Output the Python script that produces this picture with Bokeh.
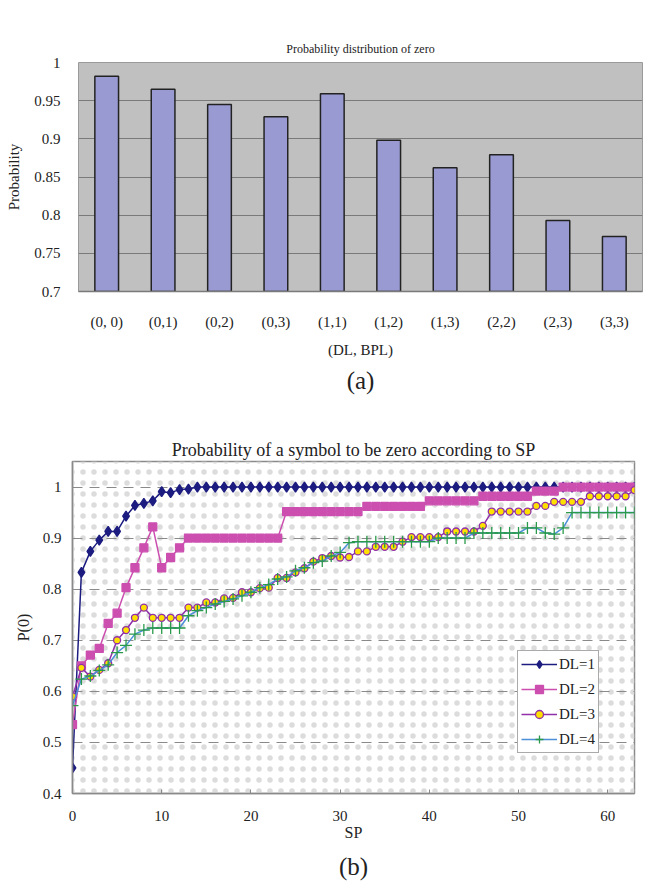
from bokeh.plotting import figure
from bokeh.models import FactorRange, Range1d, FixedTicker, Title, BoxAnnotation
from bokeh.embed import file_html
from bokeh.resources import INLINE

FONT = "Liberation Serif"

# ---------------- data: chart (a) ----------------
pairs = ["(0, 0)", "(0,1)", "(0,2)", "(0,3)", "(1,1)", "(1,2)", "(1,3)", "(2,2)", "(2,3)", "(3,3)"]
prob_zero = [0.982, 0.965, 0.945, 0.929, 0.959, 0.898, 0.862, 0.879, 0.793, 0.772]
bar_ticks = [0.7, 0.75, 0.8, 0.85, 0.9, 0.95, 1.0]
bar_tick_labels = ["0.7", "0.75", "0.8", "0.85", "0.9", "0.95", "1"]

# ---------------- data: chart (b) ----------------
sp = [0, 1, 2, 3, 4, 5, 6, 7, 8, 9, 10, 11, 12, 13, 14, 15, 16, 17, 18, 19,
      20, 21, 22, 23, 24, 25, 26, 27, 28, 29, 30, 31, 32, 33, 34, 35, 36, 37, 38, 39,
      40, 41, 42, 43, 44, 45, 46, 47, 48, 49, 50, 51, 52, 53, 54, 55, 56, 57, 58, 59,
      60, 61, 62, 63]
dl1 = [0.45, 0.833, 0.874, 0.896, 0.913, 0.913, 0.943, 0.964, 0.968, 0.973,
       0.991, 0.989, 0.995, 0.996, 1.0, 1.0, 1.0, 1.0, 1.0, 1.0,
       1.0, 1.0, 1.0, 1.0, 1.0, 1.0, 1.0, 1.0, 1.0, 1.0,
       1.0, 1.0, 1.0, 1.0, 1.0, 1.0, 1.0, 1.0, 1.0, 1.0,
       1.0, 1.0, 1.0, 1.0, 1.0, 1.0, 1.0, 1.0, 1.0, 1.0,
       1.0, 1.0, 1.0, 1.0, 1.0, 1.0, 1.0, 1.0, 1.0, 1.0,
       1.0, 1.0, 1.0, 1.0]
dl2 = [0.535, 0.65, 0.671, 0.684, 0.733, 0.753, 0.803, 0.842, 0.881, 0.922,
       0.842, 0.862, 0.881, 0.90, 0.90, 0.90, 0.90, 0.90, 0.90, 0.90,
       0.90, 0.90, 0.90, 0.90, 0.952, 0.952, 0.952, 0.952, 0.952, 0.952,
       0.952, 0.952, 0.952, 0.962, 0.962, 0.962, 0.962, 0.962, 0.962, 0.962,
       0.973, 0.973, 0.973, 0.973, 0.973, 0.973, 0.982, 0.982, 0.982, 0.982,
       0.982, 0.982, 0.992, 0.992, 0.992, 1.0, 1.0, 1.0, 1.0, 1.0,
       1.0, 1.0, 1.0, 1.0]
dl3 = [0.59, 0.646, 0.629, 0.642, 0.655, 0.70, 0.72, 0.744, 0.764, 0.744,
       0.744, 0.744, 0.744, 0.764, 0.764, 0.774, 0.774, 0.782, 0.783, 0.794,
       0.794, 0.802, 0.803, 0.822, 0.822, 0.833, 0.841, 0.854, 0.861, 0.865,
       0.862, 0.863, 0.874, 0.874, 0.883, 0.883, 0.883, 0.893, 0.902, 0.902,
       0.902, 0.902, 0.913, 0.913, 0.913, 0.913, 0.924, 0.952, 0.952, 0.952,
       0.952, 0.952, 0.963, 0.963, 0.971, 0.971, 0.971, 0.971, 0.982, 0.982,
       0.982, 0.982, 0.982, 0.994]
dl4 = [0.572, 0.624, 0.63, 0.641, 0.652, 0.676, 0.69, 0.712, 0.72, 0.724,
       0.724, 0.724, 0.724, 0.748, 0.758, 0.764, 0.771, 0.776, 0.781, 0.787,
       0.794, 0.803, 0.809, 0.82, 0.824, 0.836, 0.842, 0.852, 0.855, 0.865,
       0.872, 0.891, 0.893, 0.893, 0.893, 0.893, 0.893, 0.893, 0.893, 0.893,
       0.893, 0.90, 0.90, 0.90, 0.90, 0.91, 0.91, 0.91, 0.91, 0.91,
       0.91, 0.92, 0.92, 0.91, 0.908, 0.92, 0.95, 0.95, 0.95, 0.95,
       0.95, 0.95, 0.95, 0.95]
line_ticks_y = [0.4, 0.5, 0.6, 0.7, 0.8, 0.9, 1.0]
line_tick_labels_y = ["0.4", "0.5", "0.6", "0.7", "0.8", "0.9", "1"]
line_ticks_x = [0, 10, 20, 30, 40, 50, 60]

# ---------------- chart (a) ----------------
p1 = figure(x_range=FactorRange(*pairs), y_range=Range1d(0.7, 1.0),
            frame_width=564, frame_height=229, output_backend="svg", toolbar_location=None,
            min_border_left=78, min_border_right=3, min_border_top=62, min_border_bottom=120)
p1.vbar(x=pairs, top=prob_zero, bottom=0.7, width=0.42,
        fill_color="#9a9ad2", line_color="#222222", line_width=1.5)
p1.title.text = "Probability distribution of zero"
p1.title.align = "center"
p1.title.text_font = FONT
p1.title.text_font_size = "12px"
p1.title.text_font_style = "normal"
p1.title.text_color = "#222222"
p1.title.standoff = 13
p1.background_fill_color = "#c0c0c0"
p1.outline_line_color = "#9a9a9a"
p1.xgrid.grid_line_color = None
p1.ygrid.grid_line_color = "#7a7a7a"
p1.ygrid.grid_line_width = 1
p1.yaxis.ticker = FixedTicker(ticks=bar_ticks)
p1.yaxis.major_label_overrides = dict(zip(bar_ticks, bar_tick_labels))
p1.yaxis.axis_line_color = None
p1.yaxis.major_tick_line_color = None
p1.yaxis.minor_tick_line_color = None
p1.yaxis.major_label_standoff = 12
p1.yaxis.axis_label = "Probability"
p1.yaxis.axis_label_standoff = 9
p1.xaxis.axis_label = "(DL, BPL)"
p1.xaxis.axis_line_color = "#7a7a7a"
p1.xaxis.axis_line_width = 1.5
p1.xaxis.major_tick_line_color = None
p1.xaxis.major_label_standoff = 16
p1.xaxis.axis_label_standoff = 9
for ax in (p1.xaxis, p1.yaxis):
    ax.major_label_text_font = FONT
    ax.major_label_text_font_size = "15px"
    ax.major_label_text_color = "#222222"
    ax.axis_label_text_font = FONT
    ax.axis_label_text_font_size = "15px"
    ax.axis_label_text_font_style = "normal"
    ax.axis_label_text_color = "#222222"
p1.add_layout(Title(text="(a)", align="center", text_font=FONT, text_font_size="25px",
                    text_font_style="normal", text_color="#222222", standoff=8), "below")

# ---------------- chart (b) ----------------
p2 = figure(x_range=Range1d(0, 63), y_range=Range1d(0.4, 1.05),
            frame_width=562, frame_height=332, output_backend="svg", toolbar_location=None,
            min_border_left=72, min_border_right=11, min_border_top=50, min_border_bottom=96)
p2.add_layout(BoxAnnotation(fill_alpha=0, line_alpha=0, hatch_pattern="dot",
                            hatch_color="#dcdcdc", hatch_scale=11, hatch_weight=1,
                            level="image"))

series = [
    (dl1, "DL=1", "#1c1c80", "diamond", "#1c1c80", "#1c1c80", 10),
    (dl2, "DL=2", "#cc4fb0", "square", "#cc4fb0", "#cc4fb0", 8),
    (dl3, "DL=3", "#9030a8", "circle", "#ffe000", "#9030a8", 7),
    (dl4, "DL=4", "#4a8fd8", "cross", None, "#2a9a4a", 12),
]
for ys, lab, lc, mk, fc, mlc, sz in series:
    p2.line(sp, ys, line_color=lc, line_width=1.5, legend_label=lab)
    p2.scatter(sp, ys, marker=mk, size=sz, fill_color=fc, line_color=mlc,
               line_width=1.3, legend_label=lab)

p2.title.text = "Probability of a symbol to be zero according to SP"
p2.title.align = "center"
p2.title.text_font = FONT
p2.title.text_font_size = "18px"
p2.title.text_font_style = "normal"
p2.title.text_color = "#222222"
p2.title.standoff = 4
p2.background_fill_color = "white"
p2.outline_line_color = "#8a8a8a"
p2.outline_line_width = 1.5
p2.xgrid.grid_line_color = None
p2.ygrid.grid_line_color = "#8a8a8a"
p2.ygrid.grid_line_dash = "10 7"
p2.ygrid.grid_line_width = 1
p2.xaxis.ticker = FixedTicker(ticks=line_ticks_x)
p2.yaxis.ticker = FixedTicker(ticks=line_ticks_y)
p2.yaxis.major_label_overrides = dict(zip(line_ticks_y, line_tick_labels_y))
for ax in (p2.xaxis, p2.yaxis):
    ax.axis_line_color = "#8a8a8a"
    ax.axis_line_width = 1.5
    ax.major_tick_line_color = "#8a8a8a"
    ax.major_tick_in = 4
    ax.major_tick_out = 0
    ax.minor_tick_line_color = None
    ax.major_label_text_font = FONT
    ax.major_label_text_font_size = "15px"
    ax.major_label_text_color = "#222222"
    ax.axis_label_text_font = FONT
    ax.axis_label_text_font_size = "16px"
    ax.axis_label_text_font_style = "normal"
    ax.axis_label_text_color = "#222222"
p2.yaxis.major_tick_line_color = None
p2.xaxis.major_label_standoff = 17
p2.xaxis.axis_label = "SP"
p2.xaxis.axis_label_standoff = 0
p2.yaxis.major_label_standoff = 11
p2.yaxis.axis_label = "P(0)"
p2.yaxis.axis_label_standoff = 8
p2.add_layout(Title(text="(b)", align="center", text_font=FONT, text_font_size="25px",
                    text_font_style="normal", text_color="#222222", standoff=14), "below")

leg = p2.legend[0]
leg.location = (445, 40)
leg.label_text_font = FONT
leg.label_text_font_size = "15px"
leg.label_text_color = "#222222"
leg.glyph_width = 36
leg.glyph_height = 20
leg.spacing = 5
leg.padding = 3
leg.margin = 0
leg.label_standoff = 2
leg.border_line_color = "#555555"
leg.border_line_width = 1
leg.background_fill_color = "white"
leg.background_fill_alpha = 1

open("out.html", "w").write(file_html([p1, p2], INLINE))
